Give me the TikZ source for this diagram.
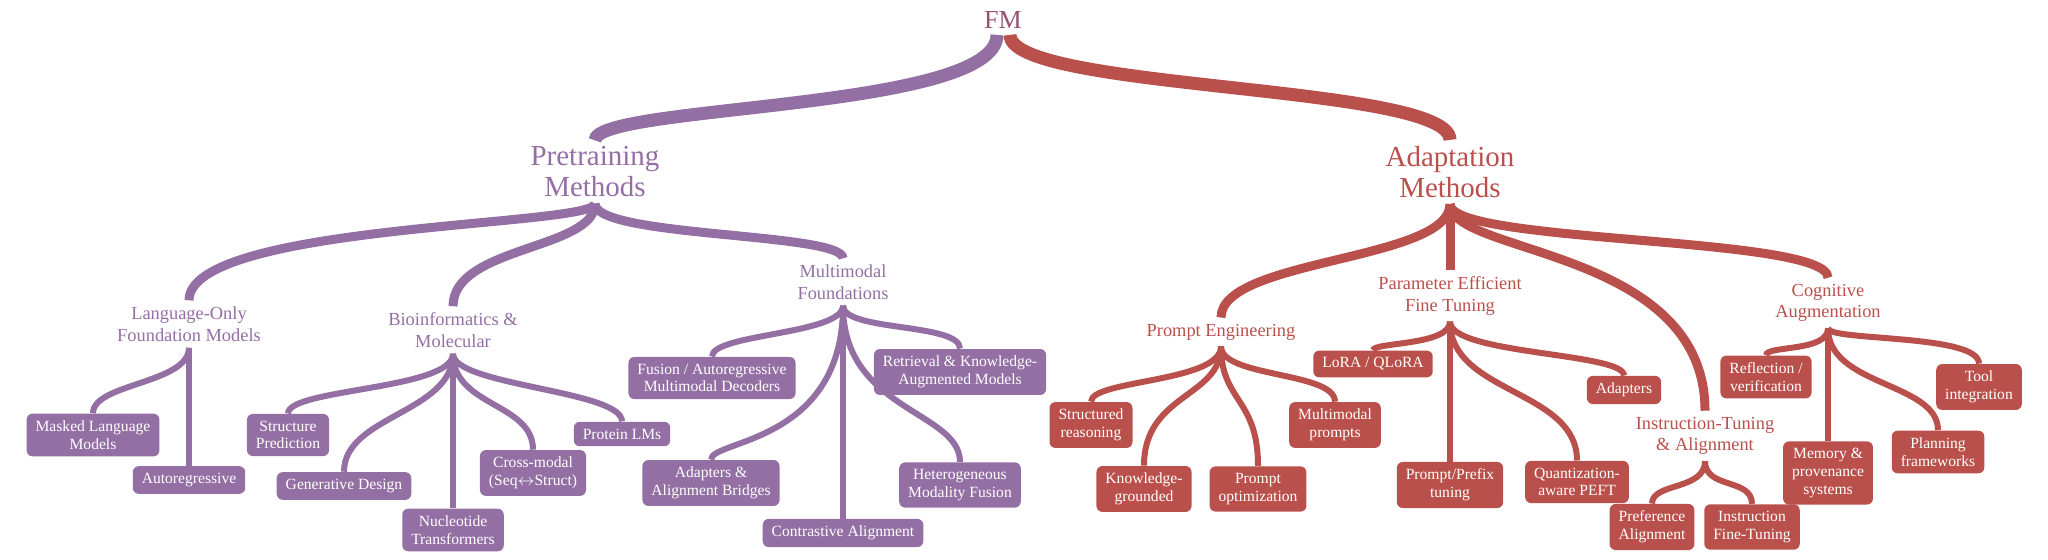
\documentclass[tikz,border=0pt]{standalone}
\usepackage{fontspec}
\setmainfont{Liberation Serif}
\definecolor{pur}{RGB}{148,111,164}
\definecolor{rd}{RGB}{186,80,75}
\definecolor{fmcol}{RGB}{150,82,112}
\tikzset{root/.style = {text=fmcol, inner sep=3pt, font=\fontsize{13}{14}\selectfont}}
\tikzset{cat/.style = {align=center, inner sep=3pt, font=\fontsize{14.5}{15.5}\selectfont}}
\tikzset{sub/.style = {align=center, inner sep=3pt, font=\fontsize{9.2}{10.8}\selectfont}}
\tikzset{leaf/.style = {fill=#1, text=white, rounded corners=3pt, align=center,
    inner xsep=4.5pt, inner ysep=3.5pt, font=\fontsize{7.8}{8.85}\selectfont}}
\tikzset{trunk/.style = {line width=6.5pt}}
\tikzset{limb/.style = {line width=4.5pt}}
\tikzset{twig/.style = {line width=3pt}}

\begin{document}
\begin{tikzpicture}[x=0.5pt, y=0.5pt]
    \useasboundingbox (0, 0) rectangle (2048, -560);

    % top levels
    \node [root] (fm) at (1003, -20) {FM};
    \node [cat, text=pur] (pre) at (595, -172) {Pretraining\\Methods};
    \node [cat, text=rd] (ada) at (1450, -172) {Adaptation\\Methods};

    \node [sub, text=pur] (lang) at (189, -324) {Language-Only\\Foundation Models};
    \node [sub, text=pur] (bio) at (453, -330) {Bioinformatics \&\\Molecular};
    \node [sub, text=pur] (mm) at (843, -282) {Multimodal\\Foundations};

    \node [sub, text=rd] (pe) at (1221, -332) {Prompt Engineering};
    \node [sub, text=rd] (peft) at (1450, -296) {Parameter Efficient\\Fine Tuning};
    \node [sub, text=rd] (ita) at (1705, -436) {Instruction-Tuning\\\& Alignment};
    \node [sub, text=rd] (cog) at (1828, -303) {Cognitive\\Augmentation};

    % pretraining leaves
    \node [leaf=pur] (masked) at (93, -435) {Masked Language\\Models};
    \node [leaf=pur] (autoreg) at (189, -480) {Autoregressive};
    \node [leaf=pur] (struct) at (288, -435) {Structure\\Prediction};
    \node [leaf=pur] (gendes) at (344, -486) {Generative Design};
    \node [leaf=pur] (nucl) at (453, -530) {Nucleotide\\Transformers};
    \node [leaf=pur] (cross) at (533, -473) {Cross-modal\\(Seq$\leftrightarrow$Struct)};
    \node [leaf=pur] (prot) at (622, -434) {Protein LMs};
    \node [leaf=pur] (fusion) at (712, -378) {Fusion / Autoregressive\\Multimodal Decoders};
    \node [leaf=pur] (adbr) at (711, -483) {Adapters \&\\Alignment Bridges};
    \node [leaf=pur] (contr) at (843, -533) {Contrastive Alignment};
    \node [leaf=pur] (hetero) at (960, -485) {Heterogeneous\\Modality Fusion};
    \node [leaf=pur] (retr) at (960, -372) {Retrieval \& Knowledge-\\Augmented Models};

    % adaptation leaves
    \node [leaf=rd] (sreas) at (1091, -425) {Structured\\reasoning};
    \node [leaf=rd] (kgr) at (1144, -489) {Knowledge-\\grounded};
    \node [leaf=rd] (popt) at (1258, -489) {Prompt\\optimization};
    \node [leaf=rd] (mmp) at (1335, -425) {Multimodal\\prompts};
    \node [leaf=rd] (lora) at (1373, -364) {LoRA / QLoRA};
    \node [leaf=rd] (ppt) at (1450, -485) {Prompt/Prefix\\tuning};
    \node [leaf=rd] (qpeft) at (1577, -482) {Quantization-\\aware PEFT};
    \node [leaf=rd] (adpt) at (1624, -390) {Adapters};
    \node [leaf=rd] (pref) at (1652, -527) {Preference\\Alignment};
    \node [leaf=rd] (ift) at (1752, -527) {Instruction\\Fine-Tuning};
    \node [leaf=rd] (refl) at (1766, -377) {Reflection /\\verification};
    \node [leaf=rd] (tool) at (1979, -387) {Tool\\integration};
    \node [leaf=rd] (mem) at (1828, -473) {Memory \&\\provenance\\systems};
    \node [leaf=rd] (plan) at (1938, -452) {Planning\\frameworks};

    % branches
    \draw [pur, trunk] ([xshift=-3pt]fm.south) .. controls +(0, -76) and +(0, 36) .. (pre.north);
    \draw [rd, trunk] ([xshift=3.5pt]fm.south) .. controls +(0, -56) and +(0, 56) .. (ada.north);

    \draw [pur, limb] (pre.south) .. controls +(0, -23) and +(0, 77) .. (lang.north);
    \draw [pur, limb] (pre.south) .. controls +(0, -46) and +(0, 60) .. (bio.north);
    \draw [pur, limb] (pre.south) .. controls +(0, -34) and +(0, 26) .. (mm.north);
    \draw [rd, limb] (ada.south) .. controls +(0, -57) and +(0, 59) .. (pe.north);
    \draw [rd, limb] (ada.south) -- (peft.north);
    \draw [rd, limb] (ada.south) .. controls +(0, -51) and +(0, 163) .. (ita.north);
    \draw [rd, limb] (ada.south) .. controls +(0, -40) and +(0, 42) .. (cog.north);

    \draw [pur, twig] (lang.south) .. controls +(0, -36) and +(0, 30) .. (masked.north);
    \draw [pur, twig] (lang.south) -- (autoreg.north);
    \draw [pur, twig] (bio.south) .. controls +(0, -36) and +(0, 25) .. (struct.north);
    \draw [pur, twig] (bio.south) .. controls +(0, -59) and +(0, 56) .. (gendes.north);
    \draw [pur, twig] (bio.south) -- (nucl.north);
    \draw [pur, twig] (bio.south) .. controls +(0, -53) and +(0, 47) .. (cross.north);
    \draw [pur, twig] (bio.south) .. controls +(0, -32) and +(0, 31) .. (prot.north);
    \draw [pur, twig] (mm.south) .. controls +(0, -29) and +(0, 23) .. (fusion.north);
    \draw [pur, twig] (mm.south) .. controls +(0, -138) and +(0, 20) .. (adbr.north);
    \draw [pur, twig] (mm.south) -- (contr.north);
    \draw [pur, twig] (mm.south) .. controls +(0, -105) and +(0, 51) .. (hetero.north);
    \draw [pur, twig] (mm.south) .. controls +(0, -26) and +(0, 26) .. (retr.north);

    \draw [rd, twig] (pe.south) .. controls +(0, -36) and +(0, 22) .. (sreas.north);
    \draw [rd, twig] (pe.south) .. controls +(0, -51) and +(0, 72) .. (kgr.north);
    \draw [rd, twig] (pe.south) .. controls +(0, -55) and +(0, 68) .. (popt.north);
    \draw [rd, twig] (pe.south) .. controls +(0, -31) and +(0, 30) .. (mmp.north);
    \draw [rd, twig] (peft.south) .. controls +(0, -24) and +(0, 8) .. (lora.north);
    \draw [rd, twig] (peft.south) -- (ppt.north);
    \draw [rd, twig] (peft.south) .. controls +(0, -72) and +(0, 71) .. (qpeft.north);
    \draw [rd, twig] (peft.south) .. controls +(0, -33) and +(0, 23) .. (adpt.north);
    \draw [rd, twig] (ita.south) .. controls +(0, -29) and +(0, 21) .. (pref.north);
    \draw [rd, twig] (ita.south) .. controls +(0, -28) and +(0, 26) .. (ift.north);
    \draw [rd, twig] (cog.south) .. controls +(0, -24) and +(0, 10) .. (refl.north);
    \draw [rd, twig] (cog.south) -- (mem.north);
    \draw [rd, twig] (cog.south) .. controls +(0, -58) and +(0, 48) .. (plan.north);
    \draw [rd, twig] (cog.south) .. controls +(0, -13) and +(0, 30) .. (tool.north);
  \end{tikzpicture}
\end{document}
